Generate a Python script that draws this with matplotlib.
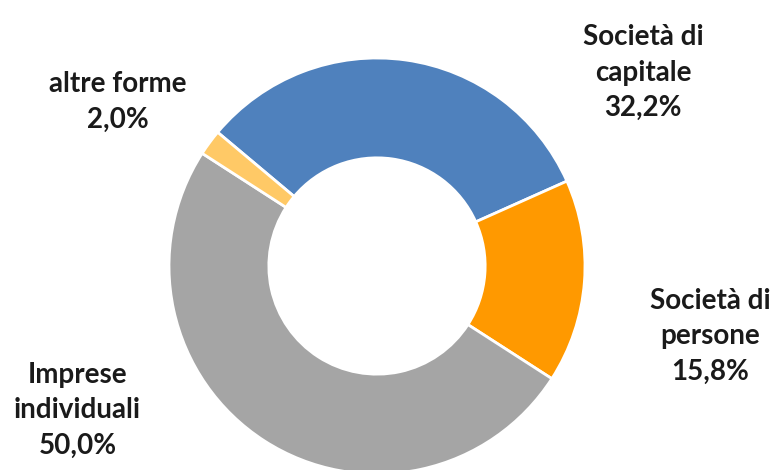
import matplotlib
matplotlib.use("Agg")
import matplotlib.pyplot as plt

categories = ["Società di\ncapitale", "Società di\npersone", "Imprese\nindividuali", "altre forme"]
values = [32.2, 15.8, 50.0, 2.0]
value_labels = ["32,2%", "15,8%", "50,0%", "2,0%"]
colors = ["#4F81BD", "#FF9900", "#A5A5A5", "#FFC966"]
label_pos = [(1.279, 0.93), (1.601, -0.337), (-1.44, -0.693), (-1.245, 0.79)]

fig = plt.figure(figsize=(7.73, 4.70), dpi=100)
ax = fig.add_axes([0, 0, 1, 1])
ax.pie(values, colors=colors, startangle=140, counterclock=False, radius=1.0,
       wedgeprops=dict(width=0.48, edgecolor="white", linewidth=2))
ax.set_xlim(-377/208, (773-377)/208)
ax.set_ylim(-(470-266)/208, 266/208)
ax.set_aspect("equal")
ax.axis("off")

for cat, vl, (x, y) in zip(categories, value_labels, label_pos):
    ax.text(x, y, f"{cat}\n{vl}", ha="center", va="center", fontsize=20,
            fontweight="bold", family="Lato", color="#1a1a1a", linespacing=1.45)

fig.savefig("out.png", dpi=100)
